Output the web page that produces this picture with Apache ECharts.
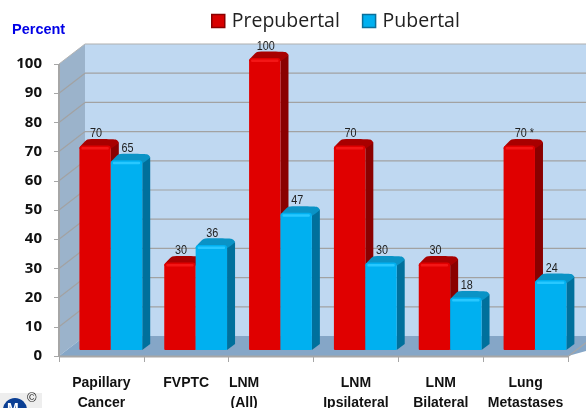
<!DOCTYPE html>
<html><head><meta charset="utf-8">
<style>html,body{margin:0;padding:0;background:#fff}#c{width:586px;height:408px}</style>
<script src="https://cdn.jsdelivr.net/npm/echarts@6/dist/echarts.min.js"></script>
</head><body><div id="c"></div>
<script>
var categories = ['Papillary\nCancer','FVPTC','LNM\n(All)','LNM\nIpsilateral','LNM\nBilateral','Lung\nMetastases'];
var prepubertal = [70,30,100,70,30,70];
var pubertal = [65,36,47,30,18,24];
var prepubertalLabels = ['70','30','100','70','30','70 *'];
var pubertalLabels = ['65','36','47','30','18','24'];
var yTicks = [0,10,20,30,40,50,60,70,80,90,100];
var seriesNames = ['Prepubertal','Pubertal'];

var DX = 26, DY = -20;       // wall depth
var chart = echarts.init(document.getElementById('c'), null, {renderer:'canvas'});

function wallItem(params, api){
  var v = api.value(0);
  var p0 = api.coord([0, 0]);
  var cw = api.size([1,0])[0];
  var leftX = p0[0] - cw/2;
  var rightX = leftX + 6*cw;
  var y0 = p0[1];
  var y100 = api.coord([0,100])[1];
  var y = api.coord([0,v])[1];
  var line = {stroke:'#a2a2a2', lineWidth:1.2};
  var ch = [];
  if (params.dataIndex === 0){
    ch.push({type:'polygon',shape:{points:[[leftX+DX,y100+DY],[640,y100+DY],[640,y0+DY],[leftX+DX,y0+DY]]},style:{fill:'#bfd8f1'}});
    ch.push({type:'polygon',shape:{points:[[leftX,y100],[leftX+DX,y100+DY],[leftX+DX,y0+DY],[leftX,y0]]},style:{fill:'#9bb3cb'}});
    ch.push({type:'polygon',shape:{points:[[leftX,y0],[leftX+DX,y0+DY],[640,y0+DY],[rightX,y0]]},style:{fill:'#85a6c7'}});
    ch.push({type:'line',shape:{x1:leftX,y1:y0+0.5,x2:rightX,y2:y0+0.5},style:{stroke:'#a6a6a6',lineWidth:2}});
    ch.push({type:'line',shape:{x1:rightX,y1:y0+0.5,x2:rightX+DX,y2:y0+0.5+DY},style:{stroke:'#a6a6a6',lineWidth:1.2}});
    ch.push({type:'line',shape:{x1:leftX,y1:y100,x2:leftX,y2:y0},style:{stroke:'#a6a6a6',lineWidth:2}});
    ch.push({type:'line',shape:{x1:leftX,y1:y100,x2:leftX+DX,y2:y100+DY},style:{stroke:'#b4b4b4',lineWidth:1}});
    ch.push({type:'line',shape:{x1:leftX+DX,y1:y100+DY,x2:640,y2:y100+DY},style:{stroke:'#b0b0b0',lineWidth:1.2}});
  }
  if (v > 0 && v < 100){
    ch.push({type:'line',shape:{x1:leftX,y1:y,x2:leftX+DX,y2:y+DY},style:line});
    ch.push({type:'line',shape:{x1:leftX+DX,y1:y+DY,x2:640,y2:y+DY},style:line});
  }
  return {type:'group',children:ch};
}

function barItem(shift, cFront, cLight, cDark, cTop, labels){
  return function(params, api){
    var i = api.value(0), v = api.value(1);
    var top = api.coord([i, v]);
    var bot = api.coord([i, 0]);
    var w = 31.4;
    var x = top[0] + shift;
    var yT = top[1] - 6, yB = bot[1] - 6;
    var dx = 8, dy = -6, h = yB - yT;
    var ch = [];
    ch.push({type:'polygon',shape:{points:[[x+w,yT+1],[x+w+dx,yT+dy+3],[x+w+dx,yB+dy],[x+w,yB]]},style:{fill:cDark}});
    ch.push({type:'polygon',shape:{smooth:0.15,points:[[x,yT+3],[x+dx,yT+dy],[x+w+dx-3,yT+dy],[x+w+dx,yT+dy+3],[x+w,yT+3]]},style:{fill:cTop}});
    ch.push({type:'rect',shape:{x:x,y:yT,width:w,height:h,r:[3,3,1,1]},style:{fill:cFront}});
    ch.push({type:'rect',shape:{x:x+2,y:yT+1.5,width:w-4,height:2.5,r:1},style:{fill:cLight}});
    var txt = labels[i];
    ch.push({type:'text',x:x+w/2+(txt.length>3?5:1),y:yT+dy+1,scaleX:0.8,
      style:{text:txt,x:0,y:0,align:'center',verticalAlign:'bottom',
      fill:'#222',font:'13.5px "Liberation Sans"'}});
    return {type:'group',children:ch};
  };
}

var catLabelStyle = {fontFamily:'"Liberation Sans Narrow","Liberation Sans"',fontWeight:'bold',fontSize:14,color:'#111',lineHeight:20};
chart.setOption({
  animation:false,
  backgroundColor:'#fff',
  textStyle:{fontFamily:'"Liberation Sans"'},
  title:{text:'Percent',left:7,top:17,textStyle:{color:'#0000e6',fontSize:14.5,fontWeight:'bold',fontFamily:'"Liberation Sans Narrow","Liberation Sans"'}},
  legend:{left:206,top:6,itemWidth:13,itemHeight:13,itemGap:22,icon:'rect',
    textStyle:{fontFamily:'"Open Sans"',fontSize:19.5,color:'#222',padding:[0,0,0,2]},
    data:[{name:seriesNames[0],itemStyle:{color:'#d80000',borderColor:'#8a0000',borderWidth:1.5}},
          {name:seriesNames[1],itemStyle:{color:'#00b0f0',borderColor:'#0a6f9a',borderWidth:1.5}}]},
  grid:{left:59,top:64,width:509,height:292,outerBoundsMode:'none',containLabel:false},
  xAxis:{type:'category',data:categories,boundaryGap:true,
    axisLine:{show:false},
    axisTick:{show:true,length:6,lineStyle:{color:'#a6a6a6',width:1}},
    axisLabel:{interval:0,margin:17,
      formatter:function(v,i){return i===2?'{off|'+v.split('\n').join('}\n{off|')+'}':'{n|'+v.split('\n').join('}\n{n|')+'}';},
      rich:{n:catLabelStyle,off:Object.assign({},catLabelStyle,{padding:[0,54,0,0]})}},
    z:5},
  yAxis:{type:'value',min:0,max:100,interval:10,
    axisLine:{show:false},axisTick:{show:true,length:5,lineStyle:{color:'#a6a6a6'}},splitLine:{show:false},
    axisLabel:{margin:17,fontFamily:'"Open Sans"',fontWeight:'bold',fontSize:15,color:'#111'}},
  graphic:[
    {type:'rect',left:0,top:393,shape:{width:42,height:15},style:{fill:'#eeeeee'}},
    {type:'circle',left:3,top:398,shape:{r:12},style:{fill:'#0b3f94'}},
    {type:'text',left:7,top:402,style:{text:'M',fill:'#fff',font:'bold 14px "Liberation Sans"'}},
    {type:'text',left:27,top:392,style:{text:'©',fill:'#222',font:'13px "Liberation Sans"'}}
  ],
  series:[
    {type:'custom',name:'walls',silent:true,z:1,data:yTicks.map(function(t){return [t];}),renderItem:wallItem,encode:{y:0},clip:false},
    {type:'custom',name:seriesNames[0],z:3,clip:false,encode:{x:0,y:1},
      itemStyle:{color:'#d80000'},
      data:prepubertal.map(function(v,i){return [i,v];}),
      renderItem:barItem(-22,'#e00000','#f41616','#8a0000','#a80000',prepubertalLabels)},
    {type:'custom',name:seriesNames[1],z:4,clip:false,encode:{x:0,y:1},
      itemStyle:{color:'#00b0f0'},
      data:pubertal.map(function(v,i){return [i,v];}),
      renderItem:barItem(9.4,'#00b0f0','#28c8ff','#00709c','#0a93c6',pubertalLabels)}
  ]
});
</script></body></html>
